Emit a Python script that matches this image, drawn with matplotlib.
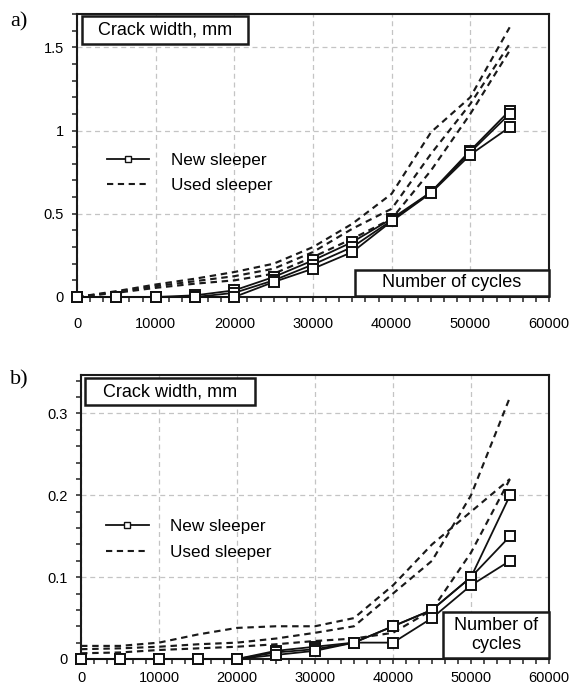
import matplotlib
matplotlib.use("Agg")
import matplotlib.pyplot as plt
from matplotlib.ticker import MultipleLocator, FixedLocator
from matplotlib.patches import Rectangle
from matplotlib.lines import Line2D

plt.rcParams['font.family'] = ['Liberation Sans', 'DejaVu Sans']

# ---------------- data ----------------
cycles = [0, 5000, 10000, 15000, 20000, 25000, 30000, 35000, 40000, 45000, 50000, 55000]

# panel a)
a_new_1 = [0, 0, 0, 0.01, 0.04, 0.12, 0.22, 0.33, 0.47, 0.63, 0.88, 1.12]
a_new_2 = [0, 0, 0, 0.0, 0.025, 0.10, 0.195, 0.30, 0.46, 0.63, 0.87, 1.10]
a_new_3 = [0, 0, 0, 0.0, 0.0, 0.09, 0.17, 0.27, 0.455, 0.625, 0.855, 1.02]
a_used_1 = [0, 0.035, 0.075, 0.11, 0.15, 0.20, 0.30, 0.44, 0.62, 0.99, 1.20, 1.62]
a_used_2 = [0, 0.03, 0.065, 0.095, 0.125, 0.17, 0.27, 0.41, 0.53, 0.86, 1.16, 1.52]
a_used_3 = [0, 0.025, 0.055, 0.08, 0.10, 0.14, 0.24, 0.35, 0.47, 0.76, 1.10, 1.48]

# panel b)
b_new_1 = [0, 0, 0, 0, 0, 0.01, 0.015, 0.02, 0.04, 0.06, 0.10, 0.20]
b_new_2 = [0, 0, 0, 0, 0, 0.008, 0.012, 0.02, 0.04, 0.06, 0.10, 0.15]
b_new_3 = [0, 0, 0, 0, 0, 0.005, 0.01, 0.02, 0.02, 0.05, 0.09, 0.12]
b_used_1 = [0.016, 0.016, 0.02, 0.03, 0.038, 0.04, 0.04, 0.05, 0.09, 0.14, 0.18, 0.22]
b_used_2 = [0.012, 0.013, 0.015, 0.018, 0.02, 0.025, 0.032, 0.04, 0.08, 0.12, 0.20, 0.32]
b_used_3 = [0.007, 0.008, 0.011, 0.013, 0.015, 0.018, 0.022, 0.025, 0.032, 0.06, 0.13, 0.22]

x_ticks = [0, 10000, 20000, 30000, 40000, 50000, 60000]
a_yticks = [0, 0.5, 1.0, 1.5]
a_ylabels = ['0', '0.5', '1', '1.5']
b_yticks = [0, 0.1, 0.2, 0.3]
b_ylabels = ['0', '0.1', '0.2', '0.3']

W, H = 569, 687
fig = plt.figure(figsize=(W / 100, H / 100), dpi=100)

ax1 = fig.add_axes([77 / W, 1 - 297 / H, (549 - 77) / W, (297 - 14) / H])
ax2 = fig.add_axes([81 / W, 1 - 659 / H, (549 - 81) / W, (659 - 375) / H])

dash = (0, (3.0, 2.2))
grid_kw = dict(color='#c4c4c4', linestyle=(0, (4, 3)), linewidth=0.9)


def style(ax, ylim, yticks, ylabels, yminor, xpad):
    ax.set_xlim(0, 60000)
    ax.set_ylim(*ylim)
    ax.xaxis.set_major_locator(FixedLocator(x_ticks))
    ax.set_xticklabels([str(t) for t in x_ticks])
    ax.xaxis.set_minor_locator(MultipleLocator(10000 / 6))
    ax.yaxis.set_major_locator(FixedLocator(yticks))
    ax.set_yticklabels(ylabels)
    ax.yaxis.set_minor_locator(MultipleLocator(yminor))
    ax.tick_params(which='both', direction='out', length=3.5, width=1.1, color='#222222')
    ax.tick_params(axis='x', which='major', labelsize=10.5, pad=xpad)
    ax.tick_params(axis='y', which='major', labelsize=10.5, pad=6)
    for s in ax.spines.values():
        s.set_linewidth(1.5)
        s.set_color('#1a1a1a')
    ax.grid(True, which='major', **grid_kw)
    ax.set_axisbelow(True)


def box(ax, x0, y0, x1, y1, text):
    ax.add_patch(Rectangle((x0, y0), x1 - x0, y1 - y0, transform=ax.transAxes,
                           facecolor='white', edgecolor='#1a1a1a', linewidth=1.8,
                           zorder=10, clip_on=False))
    ax.text((x0 + x1) / 2, (y0 + y1) / 2, text, transform=ax.transAxes,
            ha='center', va='center', fontsize=13, zorder=11, linespacing=1.15)


mk = dict(marker='s', markersize=7, markerfacecolor='white', markeredgecolor='#111111',
          markeredgewidth=1.4)

# ---- panel a
for ys in (a_used_1, a_used_2, a_used_3):
    ax1.plot(cycles, ys, color='#1a1a1a', linestyle=dash, linewidth=1.55, zorder=3)
for ys in (a_new_1, a_new_2, a_new_3):
    ax1.plot(cycles, ys, color='#111111', linewidth=1.3, zorder=4, clip_on=False, **mk)
style(ax1, (0, 1.7), a_yticks, a_ylabels, 0.1, 11)
box(ax1, 0.01, 0.894, 0.362, 0.993, 'Crack width, mm')
box(ax1, 0.588, 0.004, 1.0, 0.095, 'Number of cycles')

# ---- panel b
for ys in (b_used_1, b_used_2, b_used_3):
    ax2.plot(cycles, ys, color='#1a1a1a', linestyle=dash, linewidth=1.55, zorder=3)
for ys in (b_new_1, b_new_2, b_new_3):
    ax2.plot(cycles, ys, color='#111111', linewidth=1.3, zorder=4, clip_on=False, **mk)
style(ax2, (0, 0.347), b_yticks, b_ylabels, 0.02, 5)
box(ax2, 0.0085, 0.894, 0.372, 0.989, 'Crack width, mm')
box(ax2, 0.774, 0.004, 1.0, 0.165, 'Number of\ncycles')

# legends
handles = [Line2D([], [], color='#111111', linewidth=1.3, marker='s', markersize=4,
                  markerfacecolor='white', markeredgecolor='#111111', markeredgewidth=1.0),
           Line2D([], [], color='#1a1a1a', linewidth=1.5, linestyle=dash)]
labels = ['New sleeper', 'Used sleeper']
for ax, anchor in ((ax1, (0.063, 0.438)), (ax2, (0.053, 0.421))):
    ax.legend(handles, labels, loc='center left', bbox_to_anchor=anchor, frameon=False,
              fontsize=12.3, handlelength=2.5, handletextpad=1.25, labelspacing=0.6,
              borderpad=0, borderaxespad=0)

fig.text(10 / W, 1 - 22 / H, 'a)', fontsize=16, family='Liberation Serif', va='center', ha='left')
fig.text(10 / W, 1 - 380 / H, 'b)', fontsize=16, family='Liberation Serif', va='center', ha='left')

fig.savefig('out.png', dpi=100)
